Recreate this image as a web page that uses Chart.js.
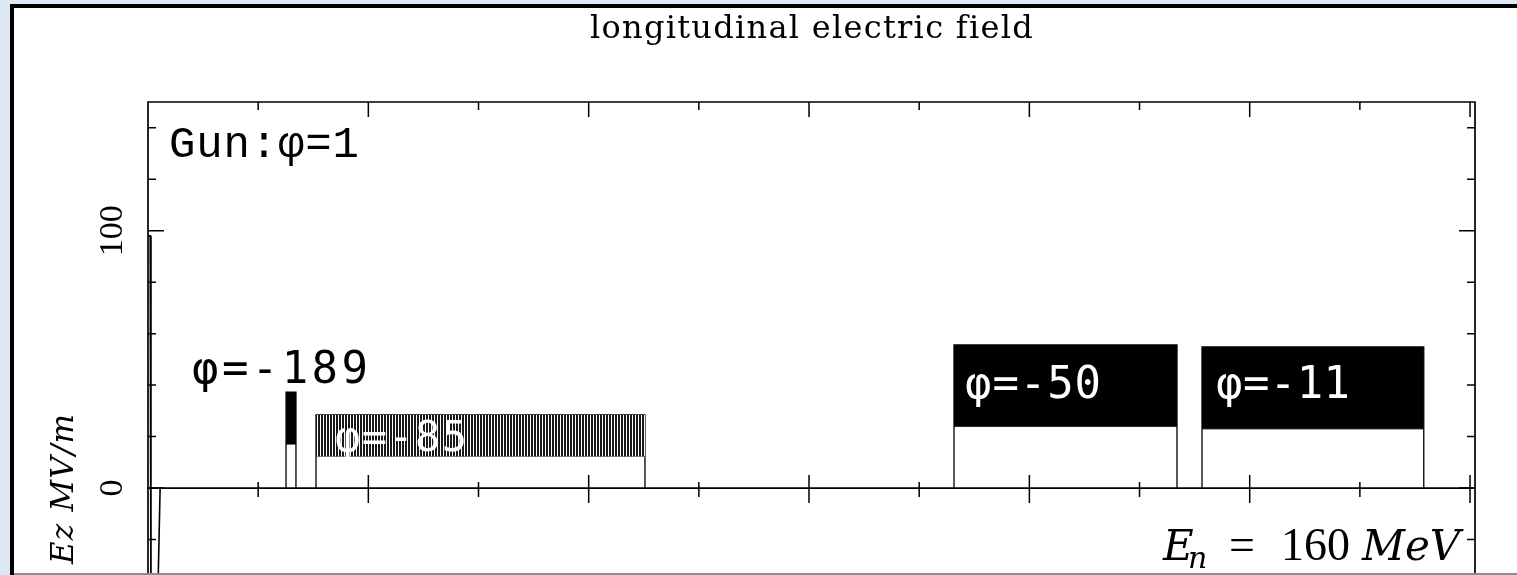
<!DOCTYPE html>
<html>
<head>
<meta charset="utf-8">
<title>longitudinal electric field</title>
<script src="https://cdn.jsdelivr.net/npm/chart.js@4.4.0/dist/chart.umd.min.js"></script>
<style>
  html, body { margin: 0; padding: 0; width: 1517px; height: 575px; overflow: hidden; background: #dde8f4; }
  #frame { position: absolute; left: 10px; top: 4px; width: 1520px; height: 600px; border-left: 4px solid #000; border-top: 4px solid #000; background: #fff; }
  #bottomLine { position: absolute; left: 14px; top: 573px; width: 1503px; height: 2px; background: #8c8c8c; }
  #plot { position: absolute; left: 0; top: 0; }
</style>
</head>
<body>
<div id="frame"></div>
<canvas id="plot" width="1517" height="600"></canvas>
<div id="bottomLine"></div>
<script>
// gun field (z in m, Ez in MV/m)
const gunZ  = [0, 0.02, 0.027, 0.08, 0.11];
const gunEz = [98, 98, -60, -60, 0];

// cavities: start / end position and envelope of the oscillating field
const cavLabels = ['φ=-189', 'φ=-85', 'φ=-50', 'φ=-11'];
const cavStart  = [1.253, 1.525, 7.316, 9.567];
const cavEnd    = [1.343, 4.511, 9.34, 11.58];
const cavTop    = [37.3, 28.4, 55.6, 54.8];
const cavBottom = [17.1, 12.4, 24, 23];

const xTickValues = [1, 2, 3, 4, 5, 6, 7, 8, 9, 10, 11, 12];
const yTickValues = [-20, 0, 20, 40, 60, 80, 100, 120, 140];
const yTickLabels = ['0', '100'];

const canvas = document.getElementById('plot');
const ctx0 = canvas.getContext('2d');

// vertical hatching for the -85 structure
function hatch() {
    const c = document.createElement('canvas');
    c.width = 3; c.height = 4;
    const g = c.getContext('2d');
    g.fillStyle = '#fff'; g.fillRect(0, 0, 3, 4);
    g.fillStyle = '#1a1a1a'; g.fillRect(0, 0, 2, 4);
    return ctx0.createPattern(c, 'repeat');
}

let datasets = [];
datasets.push({
    data: gunZ.map((z, i) => ({ x: z, y: gunEz[i] })),
    borderColor: '#000', borderWidth: 1.6, fill: false
});
for (let i in cavLabels) {
    let fillStyle = i == 1 ? hatch() : '#000';
    datasets.push({
        data: [{ x: cavStart[i], y: cavTop[i] }, { x: cavEnd[i], y: cavTop[i] }],
        borderWidth: 0, backgroundColor: fillStyle, fill: '+1'
    });
    datasets.push({
        data: [{ x: cavStart[i], y: cavBottom[i] }, { x: cavEnd[i], y: cavBottom[i] }],
        borderColor: i == 1 ? '#333' : '#000', borderWidth: 1, fill: false
    });
    datasets.push({
        data: [{ x: cavStart[i], y: 0 }, { x: cavStart[i], y: cavTop[i] }, { x: cavEnd[i], y: cavTop[i] }, { x: cavEnd[i], y: 0 }],
        borderColor: '#000', borderWidth: 1.3, fill: false
    });
}

// draw text stretched to a given width with letter spacing
function fitText(ctx, text, left, base, font, width) {
    ctx.font = font;
    ctx.letterSpacing = '0px';
    let w = ctx.measureText(text).width;
    let n = [...text].length;
    let sp = n > 1 ? (width - w) / (n - 1) : 0;
    ctx.letterSpacing = sp.toFixed(2) + 'px';
    ctx.textAlign = 'left';
    ctx.fillText(text, left, base);
    ctx.letterSpacing = '0px';
}

const axesPlugin = {
    id: 'axesPlugin',
    afterDatasetsDraw(chart) {
        const { ctx, chartArea: a, scales: { x, y } } = chart;
        const y0 = y.getPixelForValue(0);
        ctx.save();
        ctx.strokeStyle = '#000';
        ctx.lineWidth = 1.7;
        ctx.beginPath();
        ctx.moveTo(a.left, a.bottom + 20);
        ctx.lineTo(a.left, a.top);
        ctx.lineTo(a.right, a.top);
        ctx.lineTo(a.right, a.bottom + 20);
        ctx.moveTo(a.left, y0);
        ctx.lineTo(a.right, y0);
        ctx.stroke();

        ctx.lineWidth = 1.5;
        ctx.beginPath();
        xTickValues.forEach(v => {
            const px = x.getPixelForValue(v);
            const major = v % 2 === 0;
            ctx.moveTo(px, a.top);
            ctx.lineTo(px, a.top + (major ? 15 : 8));
            ctx.moveTo(px, y0 - (major ? 13 : 6));
            ctx.lineTo(px, y0 + (major ? 15 : 9));
        });
        yTickValues.forEach(v => {
            const py = y.getPixelForValue(v);
            const len = v % 100 === 0 ? 16 : 8;
            ctx.moveTo(a.left, py); ctx.lineTo(a.left + len, py);
            ctx.moveTo(a.right, py); ctx.lineTo(a.right - len, py);
        });
        ctx.stroke();

        ctx.fillStyle = '#000';
        // title
        fitText(ctx, 'longitudinal electric field', 590, 38, '32px "DejaVu Serif"', 442);

        // y tick labels, rotated
        ctx.font = '34px "Liberation Serif"';
        ctx.textAlign = 'center';
        ctx.textBaseline = 'middle';
        yTickLabels.forEach(t => {
            ctx.save();
            ctx.translate(113, y.getPixelForValue(Number(t)));
            ctx.rotate(-Math.PI / 2);
            ctx.fillText(t, 0, 0);
            ctx.restore();
        });
        // y axis title
        ctx.save();
        ctx.translate(73, 488);
        ctx.rotate(-Math.PI / 2);
        ctx.textBaseline = 'alphabetic';
        fitText(ctx, 'Ez MV/m', -76, 0, 'italic 31px "DejaVu Serif"', 150);
        ctx.restore();
        ctx.textBaseline = 'alphabetic';

        // annotations
        fitText(ctx, 'Gun:φ=1', 169, 157, '44px "Liberation Mono"', 190);
        fitText(ctx, cavLabels[0], 192, 383, '44px "DejaVu Sans Mono"', 176);
        ctx.fillStyle = '#fff';
        fitText(ctx, cavLabels[1], 335, 451, '42px "DejaVu Sans Mono"', 132);
        fitText(ctx, cavLabels[2], 965, 398, '44px "DejaVu Sans Mono"', 136);
        fitText(ctx, cavLabels[3], 1216, 398, '44px "DejaVu Sans Mono"', 134);

        // beam energy
        ctx.fillStyle = '#000';
        ctx.font = 'italic 42px "DejaVu Serif"';
        ctx.fillText('E', 1163, 560);
        ctx.font = 'italic 30px "DejaVu Serif"';
        ctx.fillText('n', 1188, 568);
        ctx.font = '46px "Liberation Serif"';
        ctx.fillText('=', 1229, 560);
        ctx.fillText('160', 1281, 560);
        ctx.font = 'italic 42px "DejaVu Serif"';
        ctx.fillText('MeV', 1362, 560);
        ctx.restore();
    }
};

const chart = new Chart(canvas, {
    type: 'line',
    data: { datasets: datasets },
    options: {
        responsive: false,
        animation: false,
        devicePixelRatio: 1,
        layout: { padding: { left: 148, top: 102, right: 42, bottom: 9 } },
        plugins: { legend: { display: false }, tooltip: { enabled: false } },
        elements: { point: { radius: 0 }, line: { tension: 0 } },
        scales: {
            x: { type: 'linear', display: false, min: 0, max: 12.045 },
            y: { type: 'linear', display: false, min: -40, max: 150 }
        }
    },
    plugins: [axesPlugin]
});
</script>
</body>
</html>
